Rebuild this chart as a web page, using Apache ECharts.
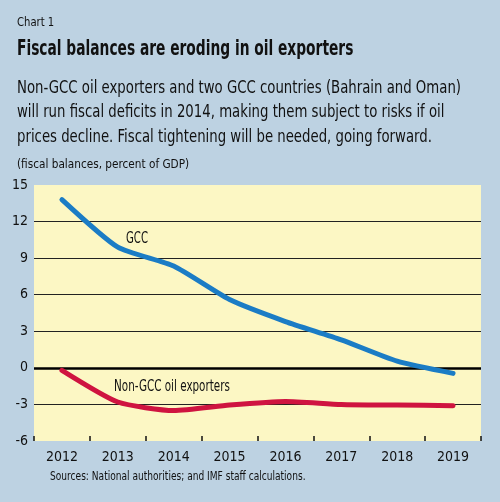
<!DOCTYPE html>
<html>
<head>
<meta charset="utf-8">
<script src="https://cdn.jsdelivr.net/npm/echarts@6/dist/echarts.min.js"></script>
<style>
  html, body { margin: 0; padding: 0; background: #bdd2e2; }
  #main { width: 500px; height: 502px; }
</style>
</head>
<body>
<div id="main"></div>
<script>
// data
var years = ['2012', '2013', '2014', '2015', '2016', '2017', '2018', '2019'];
var gcc = [13.8, 9.9, 8.35, 5.6, 3.8, 2.3, 0.55, -0.45];
var nonGcc = [-0.2, -2.8, -3.5, -3.05, -2.75, -3.0, -3.05, -3.1];
var yTicks = { min: -6, max: 15, step: 3 };

var FONT = '"DejaVu Sans Condensed", "Liberation Sans", sans-serif';

// condensed text block (the original uses a narrow face)
function txt(x, y, text, font, sx, extra) {
	var style = { text: text, font: font, fill: '#111', textVerticalAlign: 'top' };
	if (extra) { for (var k in extra) style[k] = extra[k]; }
	return { type: 'text', x: x, y: y, scaleX: sx, style: style };
}

var chart = echarts.init(document.getElementById('main'));

var option = {
	backgroundColor: '#bdd2e2',
	animation: false,
	textStyle: { fontFamily: FONT },
	grid: {
		show: true,
		left: 34,
		right: 19,
		top: 185,
		bottom: 61,
		backgroundColor: '#fcf7c4',
		borderWidth: 0
	},
	graphic: [
		txt(17, 16, 'Chart 1', '13px ' + FONT, 0.86),
		txt(17, 39, 'Fiscal balances are eroding in oil exporters', 'bold 21px ' + FONT, 0.73),
		txt(17, 76, 'Non-GCC oil exporters and two GCC countries (Bahrain and Oman)\nwill run fiscal deficits in 2014, making them subject to risks if oil\nprices decline. Fiscal tightening will be needed, going forward.',
			'18px ' + FONT, 0.82, { lineHeight: 24.5 }),
		txt(17, 158, '(fiscal balances, percent of GDP)', '13px ' + FONT, 0.9),
		txt(50, 471, 'Sources: National authorities; and IMF staff calculations.', '12px ' + FONT, 0.84),
		// series labels
		txt(126, 232, 'GCC', '15px ' + FONT, 0.75),
		txt(114, 380, 'Non-GCC oil exporters', '15px ' + FONT, 0.77)
	],
	xAxis: {
		type: 'category',
		data: years,
		boundaryGap: true,
		axisLine: { show: false, onZero: false },
		axisTick: { show: true, inside: true, length: 5, alignWithLabel: false, lineStyle: { color: '#111', width: 1.5 } },
		axisLabel: { color: '#111', fontSize: 14, margin: 9, fontFamily: FONT },
		splitLine: { show: false }
	},
	yAxis: {
		type: 'value',
		min: yTicks.min,
		max: yTicks.max,
		interval: yTicks.step,
		axisLine: { show: false },
		axisTick: { show: false },
		axisLabel: { color: '#111', fontSize: 14, margin: 6, fontFamily: FONT },
		splitLine: { show: true, showMinLine: false, showMaxLine: false, lineStyle: { color: '#222', width: 1.2 } }
	},
	series: [
		{
			name: 'GCC',
			type: 'line',
			data: gcc,
			smooth: 0.2,
			symbol: 'none',
			lineStyle: { color: '#1b7cc5', width: 5, cap: 'round' },
			z: 3,
			markLine: {
				silent: true,
				symbol: 'none',
				label: { show: false },
				lineStyle: { color: '#000', width: 2.5, type: 'solid' },
				data: [{ yAxis: 0 }],
				z: 2
			}
		},
		{
			name: 'Non-GCC oil exporters',
			type: 'line',
			data: nonGcc,
			smooth: 0.2,
			symbol: 'none',
			lineStyle: { color: '#cf1440', width: 5, cap: 'round' },
			z: 4
		}
	]
};

chart.setOption(option);
</script>
</body>
</html>
